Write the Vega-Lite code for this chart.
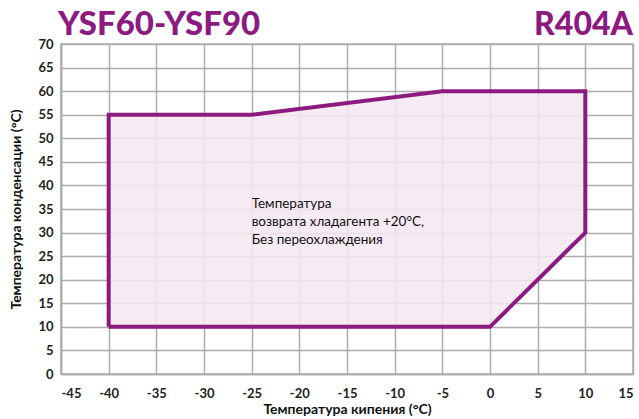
{
  "$schema": "https://vega.github.io/schema/vega-lite/v6.json",
  "width": 572,
  "height": 330,
  "autosize": {"type": "none"},
  "padding": {"left": 61, "top": 44, "right": 6, "bottom": 45},
  "background": "white",
  "config": {
    "view": {"stroke": "#aaaaaa", "strokeWidth": 1.5},
    "axis": {
      "labelFont": "Lato", "labelFontSize": 13, "labelFontWeight": "bold", "labelColor": "#222222",
      "titleFont": "Lato", "titleFontSize": 14, "titleFontWeight": "bold", "titleColor": "#111111",
      "gridColor": "#adadad", "gridWidth": 1.5, "gridOpacity": 1,
      "domainColor": "#aaaaaa", "domainWidth": 1.5, "ticks": false, "labelOverlap": false
    }
  },
  "datasets": {
    "envelope": [
      {"t0": -40, "tc": 55, "bottom": 10},
      {"t0": -25, "tc": 55, "bottom": 10},
      {"t0": -5, "tc": 60, "bottom": 10},
      {"t0": 0, "tc": 60, "bottom": 10},
      {"t0": 10, "tc": 60, "bottom": 30}
    ],
    "outline": [
      {"i": 1, "t0": -40, "tc": 10},
      {"i": 2, "t0": -40, "tc": 55},
      {"i": 3, "t0": -25, "tc": 55},
      {"i": 4, "t0": -5, "tc": 60},
      {"i": 5, "t0": 10, "tc": 60},
      {"i": 6, "t0": 10, "tc": 30},
      {"i": 7, "t0": 0, "tc": 10},
      {"i": 8, "t0": -40, "tc": 10}
    ]
  },
  "encoding": {
    "x": {
      "field": "t0", "type": "quantitative",
      "scale": {"domain": [-45, 15], "nice": false},
      "axis": {"values": [-45,-40,-35,-30,-25,-20,-15,-10,-5,0,5,10,15], "labelExpr": "toString(datum.value)", "title": "Температура кипения (°C)", "labelPadding": 13, "titleBaseline": "alphabetic", "titleY": 39}
    },
    "y": {
      "field": "tc", "type": "quantitative",
      "scale": {"domain": [0, 70], "nice": false},
      "axis": {"values": [0,5,10,15,20,25,30,35,40,45,50,55,60,65,70], "title": "Температура конденсации (°C)", "labelPadding": 8, "titlePadding": 14}
    }
  },
  "layer": [
    {
      "data": {"name": "envelope"},
      "mark": {"type": "area", "color": "#f4e6f1", "opacity": 0.85},
      "encoding": {
        "y2": {"field": "bottom"}
      }
    },
    {
      "data": {"name": "outline"},
      "mark": {"type": "line", "color": "#8c1a80", "strokeWidth": 4, "strokeJoin": "miter"},
      "encoding": {
        "order": {"field": "i", "type": "quantitative"}
      }
    },
    {
      "data": {"values": [{"t0": -25, "tc": 36, "label": ["Температура", "возврата хладагента +20°C,", "Без переохлаждения"]}]},
      "mark": {"type": "text", "align": "left", "baseline": "middle", "font": "Lato", "fontSize": 13.5, "color": "#111111", "lineHeight": 18},
      "encoding": {
        "text": {"field": "label"}
      }
    },
    {
      "data": {"values": [{"t0": -45, "tc": 70, "label": "YSF60-YSF90"}]},
      "mark": {"type": "text", "align": "left", "baseline": "alphabetic", "dx": -3, "dy": -9, "font": "Lato", "fontSize": 33, "fontWeight": 900, "color": "#8c1a80"},
      "encoding": {
        "text": {"field": "label"}
      }
    },
    {
      "data": {"values": [{"t0": 15, "tc": 70, "label": "R404A"}]},
      "mark": {"type": "text", "align": "right", "baseline": "alphabetic", "dx": 0, "dy": -9, "font": "Lato", "fontSize": 32, "fontWeight": 900, "color": "#8c1a80"},
      "encoding": {
        "text": {"field": "label"}
      }
    }
  ]
}
